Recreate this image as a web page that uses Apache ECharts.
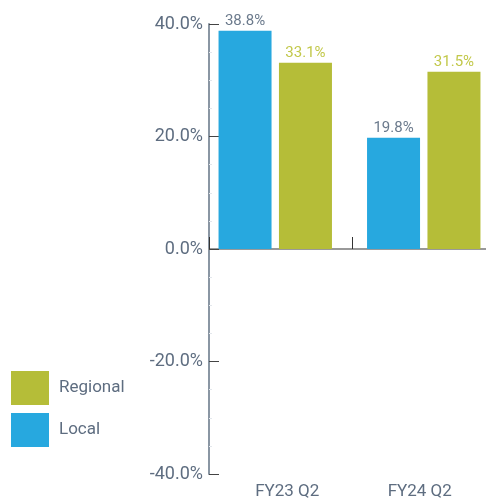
<!DOCTYPE html>
<html>
<head>
<meta charset="utf-8">
<script src="https://cdn.jsdelivr.net/npm/echarts@6/dist/echarts.min.js"></script>
<style>html,body{margin:0;padding:0;background:#fff;}#c{width:486px;height:504px;}</style>
</head>
<body>
<div id="c"></div>
<script>
const categories = ['FY23 Q2', 'FY24 Q2'];
const localValues = [38.8, 19.8];
const regionalValues = [33.1, 31.5];
const yTicks = { min: -40, max: 40, interval: 20 };

const FONT = 'Roboto, "Liberation Sans", sans-serif';
const W = 'normal';
const TXT = '#5e6d80';
const BLUE = '#27a8df';
const OLIVE = '#b5bd38';

const chart = echarts.init(document.getElementById('c'), null, { renderer: 'canvas' });
chart.setOption({
  animation: false,
  textStyle: { fontFamily: FONT },
  legend: {
    orient: 'vertical', left: 11, top: 371, padding: 0,
    itemWidth: 38, itemHeight: 34, itemGap: 8,
    data: ['Regional', 'Local'],
    icon: 'rect',
    textStyle: { color: TXT, fontSize: 17, fontWeight: W, fontFamily: FONT, padding: [0, 0, 0, 5] }
  },
  grid: [
    { left: 201, right: -12, top: 24, bottom: 30, outerBoundsMode: 'none', containLabel: false },
    { left: 209, right: -9, top: 24, bottom: 30, outerBoundsMode: 'none', containLabel: false },
    { left: 221, right: 0, top: 24, bottom: 30, outerBoundsMode: 'none', containLabel: false }
  ],
  xAxis: [
    { type: 'category', gridIndex: 0, data: categories, show: false },
    { type: 'category', gridIndex: 1, data: categories,
      axisLine: { onZero: true, lineStyle: { color: '#999999', width: 2 } },
      axisTick: { show: true, inside: true, length: 12, lineStyle: { color: '#333' } },
      axisLabel: { show: false } },
    { type: 'category', gridIndex: 2, data: categories, position: 'bottom',
      axisLine: { show: false, onZero: false }, axisTick: { show: false },
      axisLabel: { color: TXT, fontSize: 17, fontWeight: W, fontFamily: FONT, margin: 9 } }
  ],
  yAxis: [
    { type: 'value', gridIndex: 0, min: yTicks.min, max: yTicks.max, interval: yTicks.interval, show: false },
    { type: 'value', gridIndex: 1, min: yTicks.min, max: yTicks.max, interval: yTicks.interval,
      axisLine: { show: true, lineStyle: { color: '#8a96a3', width: 2 } },
      axisTick: { show: true, inside: true, length: 10, lineStyle: { color: '#444' } },
      minorTick: { show: true, splitNumber: 4, length: 3, lineStyle: { color: '#e3e7ec' } },
      splitLine: { show: false },
      axisLabel: { color: TXT, fontSize: 18, fontWeight: W, fontFamily: FONT, margin: 6,
        formatter: v => v.toFixed(1) + '%' } },
    { type: 'value', gridIndex: 2, min: yTicks.min, max: yTicks.max, interval: yTicks.interval, show: false }
  ],
  series: [
    { name: 'Local', type: 'bar', xAxisIndex: 0, yAxisIndex: 0, data: localValues,
      barWidth: 53, barGap: '14%', itemStyle: { color: BLUE },
      label: { show: true, position: 'top', distance: 2, color: '#6b7a8c', fontSize: 15, fontWeight: W, fontFamily: FONT,
        formatter: p => p.value.toFixed(1) + '%' } },
    { name: 'Regional', type: 'bar', xAxisIndex: 0, yAxisIndex: 0, data: regionalValues,
      barWidth: 53, barGap: '14%', itemStyle: { color: OLIVE },
      label: { show: true, position: 'top', distance: 2, color: '#c2c84a', fontSize: 15, fontWeight: W, fontFamily: FONT,
        formatter: p => p.value.toFixed(1) + '%' } }
  ]
});
</script>
</body>
</html>
